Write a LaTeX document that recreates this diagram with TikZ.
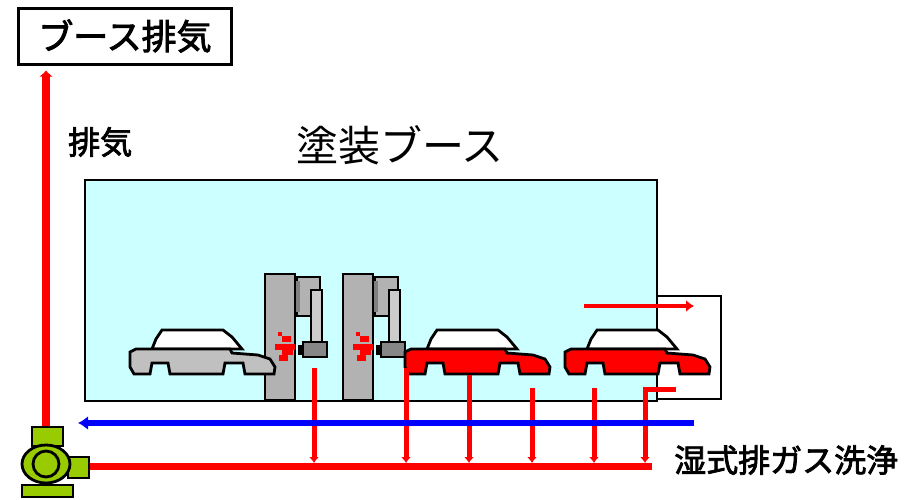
\documentclass[tikz,border=0pt]{standalone}
\usepackage{fontspec}
\newfontfamily\jp[FakeBold=2.5]{Noto Sans CJK JP}
\newfontfamily\jpthin{Noto Sans CJK JP}
\usepackage{tikz}
\usetikzlibrary{arrows.meta,calc,positioning}

\definecolor{boothcyan}{HTML}{CCFFFF}
\definecolor{pumpgreen}{HTML}{99CC00}
\definecolor{robotgray}{HTML}{B2B2B2}
\definecolor{armgray}{HTML}{CCCCCC}
\definecolor{headgray}{HTML}{868686}
\definecolor{cargray}{HTML}{C0C0C0}

\tikzset{
	outline/.style={line width=2.8pt,draw=black},
	riser/.style={red,line width=8pt,-{Latex[length=6pt,width=14pt]}},
	drop/.style={red,line width=5pt,-{Latex[length=6pt,width=10pt]}},
	header/.style={red,line width=7pt},
	backflow/.style={blue,line width=6pt,-{Latex[length=10pt,width=14pt]}},
}

% car: left end of body at (#1,#2), body colour #3
\newcommand{\paintcar}[3]{%
	\begin{scope}[shift={(#1,#2)}]
		\draw[outline,fill=white] (22,0) -- (26,-10) -- (32,-19) -- (93,-19) -- (102,-12) -- (112,0) -- cycle;
		\draw[outline,fill=#3] (0,3) -- (6,0) -- (100,0) -- (102,4) -- (128,6) -- (140,10) -- (145,18) -- (144,25)
			-- (115,25) -- (113,14) -- (95,14) -- (93,25) -- (40,25) -- (38,14) -- (22,14) -- (20,25)
			-- (4,25) -- (0,18) -- cycle;
	\end{scope}}

% robot: column left edge at #1
\newcommand{\paintrobot}[1]{%
	\begin{scope}[shift={(#1,0)}]
		\draw[outline,fill=robotgray] (0,274) rectangle (30,400);
		\draw[outline,fill=robotgray] (32,277) rectangle (55,316);
		\fill[gray] (31,281) rectangle (35,312);
		\draw[outline,fill=armgray] (46,290) rectangle (57,342);
		\draw[outline,fill=headgray] (38,342) rectangle (62,357);
		\fill (33,345) rectangle (37,355);
		\fill[red] (13,332) rectangle (17,336);
		\fill[red] (17,336) rectangle (26,342);
		\fill[red] (10,344) rectangle (30,350);
		\fill[red] (17,350) rectangle (28,355);
		\fill[red] (14,355) rectangle (23,361);
	\end{scope}}

\begin{document}
\begin{tikzpicture}[x=1pt,y=-1pt]
	\useasboundingbox (0,0) rectangle (909,499);

	\node[outline,line width=3pt,minimum width=213pt,minimum height=56pt,inner sep=0pt] (exhaustbox) at (125,36)
		{\jp\fontsize{35}{35}\selectfont ブース排気};
	\node[anchor=west,inner sep=0pt] (exhaustlabel) at (68,142) {\jp\fontsize{32}{32}\selectfont 排気};
	\node[inner sep=0pt] (boothtitle) at (400,145) {\jpthin\fontsize{42}{42}\selectfont 塗装ブース};
	\node[anchor=west,inner sep=0pt] (scrubber) at (674,460) {\jp\fontsize{32}{32}\selectfont 湿式排ガス洗浄};

	% booth and side chamber
	\draw[outline,fill=boothcyan] (85,180) rectangle (657,401);
	\draw[outline,fill=white] (657,296) rectangle (721,399);

	\paintrobot{265}
	\paintrobot{343}
	\paintcar{130}{349}{cargray}
	\paintcar{405}{349}{red}
	\paintcar{565}{349}{red}

	\draw[red,line width=4pt,-{Latex[length=8pt,width=12pt]}] (584,306) -- (694,306);

	% pump
	\draw[outline,fill=pumpgreen] (32,427) rectangle (63,446);
	\draw[outline,fill=pumpgreen] (68,457) rectangle (89,478);
	\draw[outline,fill=pumpgreen] (22,485) rectangle (73,497);
	\draw[outline,fill=pumpgreen] (46,464) ellipse [x radius=24pt,y radius=19pt];
	\draw[outline] (46,464) circle [radius=13pt];

	\coordinate (pumptop) at (46,426);
	\coordinate (pumpout) at (90,466);
	\coordinate (headerend) at (652,466);
	\draw[riser,shorten >=5pt] (pumptop) -- (pumptop |- exhaustbox.south);
	\draw[header] (pumpout) -- (headerend);

	\foreach \x/\y in {314/368,406/368,469/375,532/388,594/388}
		\draw[drop] (\x,\y) -- (\x,463);
	\draw[red,line width=5pt] (676,389) -- (645,389);
	\draw[drop] (645,387) -- (645,463);

	\draw[backflow] (694,423) -- (78,423);
\end{tikzpicture}
\end{document}
